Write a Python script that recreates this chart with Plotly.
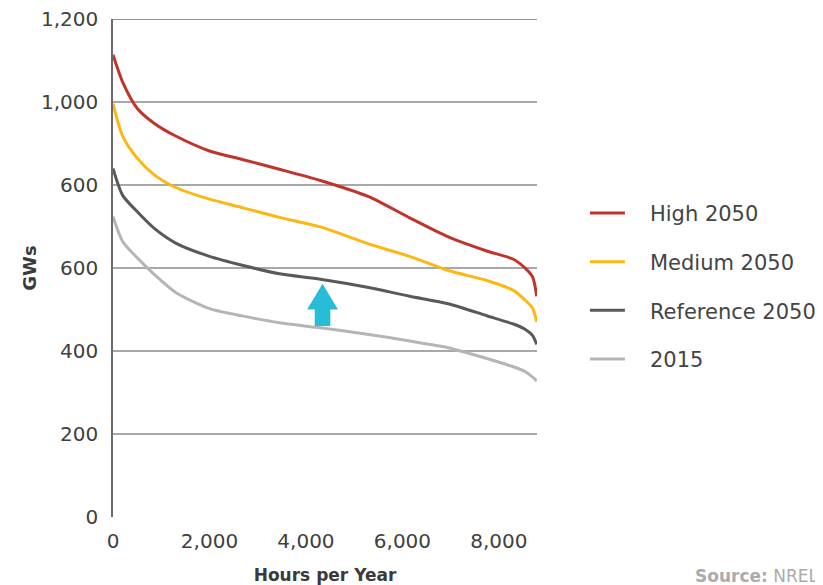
import plotly.graph_objects as go

# ---- data ----
hours = [0, 200, 500, 850, 1300, 2000, 2700, 3450, 4300, 5300, 6150, 6950, 7750, 8300, 8550, 8700, 8784]

high_2050 = [1114, 1048, 985, 949, 918, 882, 861, 838, 811, 772, 721, 675, 641, 621, 599, 578, 532]
medium_2050 = [996, 918, 865, 825, 794, 766, 745, 722, 699, 658, 628, 594, 570, 546, 522, 503, 470]
reference_2050 = [840, 775, 736, 696, 660, 628, 606, 586, 573, 553, 532, 514, 485, 465, 452, 437, 416]
y2015 = [724, 664, 625, 585, 541, 502, 484, 468, 456, 440, 424, 408, 382, 362, 350, 337, 328]

series_names = ["High 2050", "Medium 2050", "Reference 2050", "2015"]
series_values = [high_2050, medium_2050, reference_2050, y2015]
series_colors = ["#C1342C", "#FDB714", "#58595B", "#B5B5B5"]

y_tickvals = [0, 200, 400, 600, 800, 1000, 1200]
y_ticktext = ["0", "200", "400", "600", "600", "1,000", "1,200"]  # as printed in the source
x_tickvals = [0, 2000, 4000, 6000, 8000]
x_ticktext = ["0", "2,000", "4,000", "6,000", "8,000"]

dark_grid = [800, 1200]

# arrow annotation (data units)
arrow_x = 4344
arrow_base = 460
arrow_neck = 500
arrow_tip = 562
arrow_head_half = 320
arrow_shaft_half = 162

FONT = "DejaVu Sans"
PAD = "   "  # gap between legend line and label

fig = go.Figure()
for i, (name, vals, col) in enumerate(zip(series_names, series_values, series_colors)):
    fig.add_trace(go.Scatter(
        x=hours, y=vals, name=PAD + name, mode="lines",
        line=dict(color=col, width=3, shape="spline", smoothing=0.7),
        legendgroup=f"g{i}",
    ))

shapes = []
for g in dark_grid:
    shapes.append(dict(type="line", xref="paper", x0=0, x1=1, yref="y", y0=g, y1=g,
                       line=dict(color="#6b6b6b", width=1.5), layer="below"))

ax, ab, an, at, hh, sh = arrow_x, arrow_base, arrow_neck, arrow_tip, arrow_head_half, arrow_shaft_half
path = (f"M {ax-sh},{ab} L {ax+sh},{ab} L {ax+sh},{an} L {ax+hh},{an} "
        f"L {ax},{at} L {ax-hh},{an} L {ax-sh},{an} Z")
shapes.append(dict(type="path", xref="x", yref="y", path=path,
                   fillcolor="#27BDD8", line=dict(width=0), layer="above"))

fig.update_layout(
    width=815, height=577,
    margin=dict(l=105, r=286, t=11, b=68, autoexpand=False),
    paper_bgcolor="white", plot_bgcolor="white",
    font=dict(family=FONT, color="#404040"),
    showlegend=True,
    legend=dict(x=1.113, xanchor="left", y=0.651, yanchor="top",
                font=dict(size=21, color="#444444", family=FONT),
                tracegroupgap=18.4, itemwidth=35, bgcolor="rgba(0,0,0,0)"),
    shapes=shapes,
    annotations=[dict(text="<b>Source:</b> NREL", xref="paper", yref="paper",
                      x=1.67, y=-0.118, xanchor="right", yanchor="middle",
                      showarrow=False, font=dict(size=17, color="#ABABAB", family=FONT))],
)

fig.update_xaxes(
    range=[0, 8790], tickvals=x_tickvals, ticktext=x_ticktext,
    showgrid=False, zeroline=False, showline=False, ticks="",
    ticklabelstandoff=10, automargin=False, ticklabeloverflow="allow",
    tickfont=dict(size=20, color="#404040", family=FONT),
    title=dict(text="<b>Hours per Year</b>", font=dict(size=17, color="#3a3a3a", family=FONT), standoff=21),
)
fig.update_yaxes(
    range=[0, 1200], tickvals=y_tickvals, ticktext=y_ticktext,
    showgrid=True, gridcolor="#A8A8A8", gridwidth=1.5,
    zeroline=False, showline=True, linecolor="#6b6b6b", linewidth=1.5, ticks="",
    ticklabelstandoff=9, automargin=False, ticklabeloverflow="allow",
    tickfont=dict(size=20, color="#404040", family=FONT),
    title=dict(text="<b>GWs</b>", font=dict(size=18, color="#3a3a3a", family=FONT), standoff=0),
)

fig.write_html("out.html")
